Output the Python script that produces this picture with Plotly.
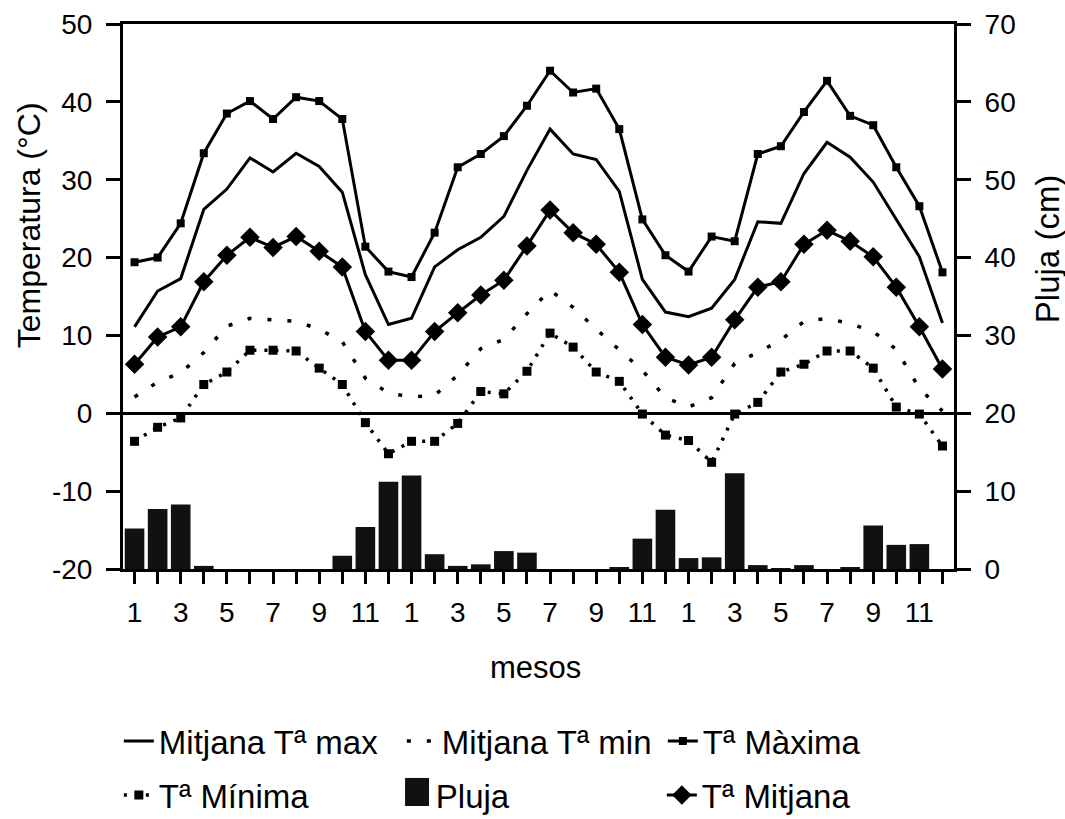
import plotly.graph_objects as go

# ---- data (3 years x 12 months) ----
x_idx = list(range(36))
month_labels = ["1", "", "3", "", "5", "", "7", "", "9", "", "11", "",
                "1", "", "3", "", "5", "", "7", "", "9", "", "11", "",
                "1", "", "3", "", "5", "", "7", "", "9", "", "11", ""]
temp_ticks = [-20, -10, 0, 10, 20, 30, 40, 50]
temp_tick_labels = ["-20", "-10", "0", "10", "20", "30", "40", "50"]
rain_ticks = [0, 10, 20, 30, 40, 50, 60, 70]

t_maxima = [19.4, 20.0, 24.4, 33.4, 38.5, 40.1, 37.8, 40.6, 40.1, 37.8, 21.4, 18.2,
            17.5, 23.2, 31.6, 33.3, 35.6, 39.5, 44.0, 41.2, 41.7, 36.5, 24.9, 20.3,
            18.2, 22.7, 22.1, 33.3, 34.3, 38.7, 42.7, 38.2, 37.0, 31.6, 26.6, 18.1]

mitjana_max = [11.1, 15.7, 17.3, 26.2, 28.8, 32.8, 31.0, 33.4, 31.7, 28.4, 17.8, 11.4,
               12.2, 18.8, 21.0, 22.6, 25.3, 31.2, 36.5, 33.3, 32.6, 28.5, 17.2, 13.0,
               12.4, 13.5, 17.2, 24.6, 24.4, 30.8, 34.8, 32.9, 29.7, 24.9, 20.1, 11.6]

mitjana_min = [2.1, 4.0, 5.2, 7.8, 11.2, 12.2, 12.0, 11.8, 10.8, 9.2, 4.5, 2.6,
               2.1, 2.3, 4.9, 8.3, 9.5, 12.8, 15.8, 13.6, 10.8, 8.1, 5.5, 2.0,
               0.8, 2.0, 6.4, 7.8, 9.4, 11.8, 12.2, 11.5, 10.5, 8.2, 3.2, 0.3]

t_minima = [-3.6, -1.8, -0.6, 3.7, 5.3, 8.1, 8.1, 8.0, 5.8, 3.7, -1.2, -5.2,
            -3.6, -3.6, -1.3, 2.8, 2.5, 5.4, 10.3, 8.5, 5.3, 4.1, -0.1, -2.8,
            -3.5, -6.3, -0.1, 1.4, 5.3, 6.3, 8.0, 8.0, 5.8, 0.8, -0.1, -4.2]

t_mitjana = [6.3, 9.8, 11.1, 16.9, 20.3, 22.6, 21.3, 22.7, 20.8, 18.8, 10.5, 6.8,
             6.8, 10.5, 12.9, 15.2, 17.1, 21.5, 26.1, 23.2, 21.7, 18.1, 11.4, 7.2,
             6.2, 7.2, 12.0, 16.2, 16.9, 21.7, 23.5, 22.1, 20.1, 16.2, 11.1, 5.7]

pluja = [5.2, 7.7, 8.3, 0.4, 0.0, 0.0, 0.0, 0.0, 0.0, 1.7, 5.4, 11.2,
         12.0, 1.9, 0.4, 0.6, 2.3, 2.1, 0.0, 0.0, 0.0, 0.15, 3.9, 7.6,
         1.4, 1.5, 12.3, 0.5, 0.1, 0.5, 0.0, 0.15, 5.6, 3.1, 3.2, 0.0]

FONT = "Liberation Sans, Arial, Helvetica, sans-serif"
BLACK = "black"

fig = go.Figure()

# rain bars (right axis)
fig.add_trace(go.Bar(x=x_idx, y=pluja, yaxis="y2", width=0.85,
                     marker=dict(color="#111111", line=dict(width=0)),
                     name="Pluja", showlegend=False))

# row 1 of legend
fig.add_trace(go.Scatter(x=x_idx, y=mitjana_max, mode="lines", name="Mitjana Tª max",
                         line=dict(color=BLACK, width=3), legend="legend",
                         legendwidth=238, legendrank=1))
fig.add_trace(go.Scatter(x=x_idx, y=mitjana_min, mode="lines", name="Mitjana Tª min",
                         line=dict(color=BLACK, width=3.5, dash="4px,16px"), legend="legend",
                         legendwidth=216, legendrank=2))
fig.add_trace(go.Scatter(x=x_idx, y=t_maxima, mode="lines+markers", name="Tª Màxima",
                         line=dict(color=BLACK, width=3),
                         marker=dict(symbol="square", size=8, color=BLACK),
                         legend="legend", legendwidth=200, legendrank=3))

# row 2 of legend
fig.add_trace(go.Scatter(x=x_idx, y=t_minima, mode="lines+markers", name="Tª Mínima",
                         line=dict(color=BLACK, width=3.5, dash="3px,8px"),
                         marker=dict(symbol="square", size=9, color=BLACK),
                         legend="legend2", legendwidth=232, legendrank=1))
fig.add_trace(go.Scatter(x=[None], y=[None], mode="markers", name="Pluja",
                         marker=dict(symbol="square", size=16, color="#111111"),
                         legend="legend2", legendwidth=221, legendrank=2))
fig.add_trace(go.Scatter(x=x_idx, y=t_mitjana, mode="lines+markers", name="Tª Mitjana",
                         line=dict(color=BLACK, width=3),
                         marker=dict(symbol="diamond", size=15, color=BLACK),
                         legend="legend2", legendwidth=200, legendrank=3))

axis_common = dict(showgrid=False, showline=True, linecolor=BLACK, linewidth=3,
                   ticks="outside", tickcolor=BLACK, tickwidth=2.5,
                   tickfont=dict(family=FONT, size=28, color=BLACK))

legend_common = dict(orientation="h", x=-0.005, xanchor="left", yanchor="middle",
                     font=dict(family=FONT, size=33, color=BLACK), itemwidth=30,
                     bgcolor="rgba(0,0,0,0)", entrywidthmode="pixels", traceorder="normal")

fig.update_layout(
    width=1065, height=819, autosize=False,
    margin=dict(l=123, r=111, t=24, b=250, autoexpand=False),
    paper_bgcolor="white", plot_bgcolor="white",
    font=dict(family=FONT, color=BLACK),
    xaxis=dict(range=[-0.5, 35.5], tickmode="array", tickvals=x_idx, ticktext=month_labels,
               mirror=True, ticklen=12, zeroline=False, ticklabelstandoff=4,
               **axis_common),
    yaxis=dict(range=[-20, 50], tickmode="array", tickvals=temp_ticks,
               ticktext=temp_tick_labels, ticklen=14,
               zeroline=True, zerolinecolor=BLACK, zerolinewidth=2.5,
               ticklabelstandoff=8, **axis_common),
    yaxis2=dict(range=[0, 70], tickmode="array", tickvals=rain_ticks, ticklen=14,
                overlaying="y", side="right", zeroline=False, ticklabelstandoff=8,
                **axis_common),
    legend=dict(y=-0.3156, **legend_common),
    legend2=dict(y=-0.4147, **legend_common),
    shapes=[
        # enlarged legend swatch for the rain bars
        dict(type="rect", xref="paper", yref="paper", x0=0.3394, x1=0.3682,
             y0=-0.3834, y1=-0.4349, fillcolor="#111111", line=dict(width=0)),
    ],
    annotations=[
        dict(text="Temperatura (°C)", xref="paper", yref="paper", x=-0.113, y=0.631,
             xanchor="center", yanchor="middle", textangle=-90, showarrow=False,
             font=dict(family=FONT, size=32, color=BLACK)),
        dict(text="Pluja (cm)", xref="paper", yref="paper", x=1.112, y=0.587,
             xanchor="center", yanchor="middle", textangle=-90, showarrow=False,
             font=dict(family=FONT, size=33, color=BLACK)),
        dict(text="mesos", xref="paper", yref="paper", x=0.496, y=-0.18,
             xanchor="center", yanchor="middle", showarrow=False,
             font=dict(family=FONT, size=31, color=BLACK)),
    ],
)

fig.write_html("out.html")
